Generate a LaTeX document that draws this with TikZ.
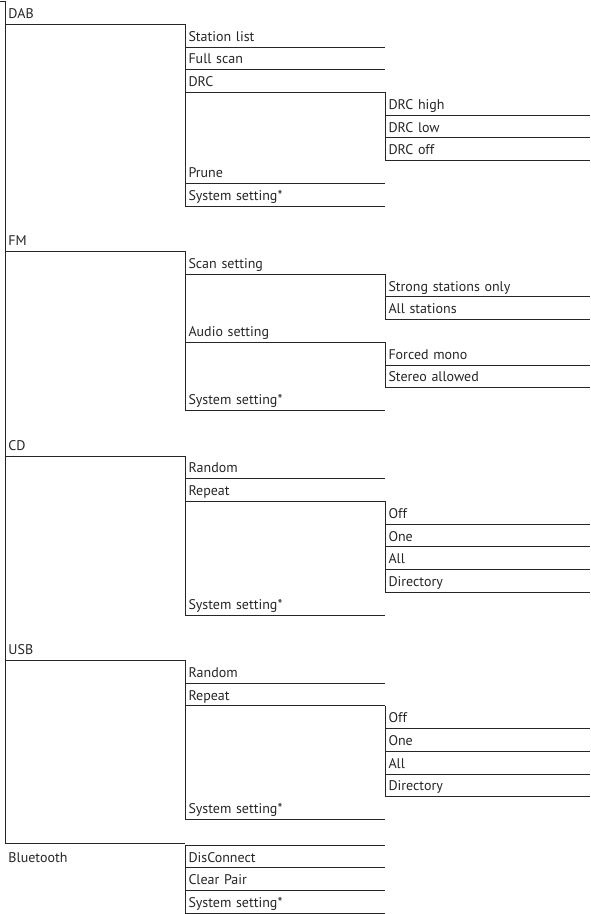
\documentclass[tikz,border=0pt]{standalone}
\usepackage{fontspec}
\setmainfont{PT Sans}
\usetikzlibrary{calc,positioning}
\newlength{\rowh}
\setlength{\rowh}{22.72pt}
\tikzset{
    menuline/.style={draw=black!85,line width=0.8pt},
    menuitem/.style={anchor=north west,inner xsep=3.5pt,inner ysep=0pt,outer sep=0pt,text height=16.97pt,text depth=5.75pt,align=left,font=\fontsize{14}{16}\selectfont,text=black!85},
    lvlone/.style={menuitem,text width=173pt},
    lvltwo/.style={menuitem,text width=193pt},
    lvlthree/.style={menuitem,text width=198pt},
}
\begin{document}
\begin{tikzpicture}
\useasboundingbox (0pt,0pt) rectangle (590pt,-914pt);
% DAB
\node[lvlone] (dab) at (5pt,-1.5pt) {DAB};
\node[lvltwo] (stlist) at (dab.south east) {Station list};
\node[lvltwo,below=0pt of stlist.south west,anchor=north west] (fullscan) {Full scan};
\node[lvltwo,below=0pt of fullscan.south west,anchor=north west] (drc) {DRC};
\node[lvlthree] (drchigh) at (drc.south east) {DRC high};
\node[lvlthree,below=0pt of drchigh.south west,anchor=north west] (drclow) {DRC low};
\node[lvlthree,below=0pt of drclow.south west,anchor=north west] (drcoff) {DRC off};
\node[lvltwo] (prune) at (drc.west |- drcoff.south) {Prune};
\node[lvltwo,below=0pt of prune.south west,anchor=north west] (dabsys) {System setting*};

% FM
\node[lvlone] (fm) at ($(dab.west |- dabsys.south)+(0,-\rowh)$) {FM};
\node[lvltwo] (scan) at (fm.south east) {Scan setting};
\node[lvlthree] (strong) at (scan.south east) {Strong stations only};
\node[lvlthree,below=0pt of strong.south west,anchor=north west] (allst) {All stations};
\node[lvltwo] (audio) at (scan.west |- allst.south) {Audio setting};
\node[lvlthree] (mono) at (audio.south east) {Forced mono};
\node[lvlthree,below=0pt of mono.south west,anchor=north west] (stereo) {Stereo allowed};
\node[lvltwo] (fmsys) at (audio.west |- stereo.south) {System setting*};

% CD
\node[lvlone] (cd) at ($(fm.west |- fmsys.south)+(0,-\rowh)$) {CD};
\node[lvltwo] (cdrand) at (cd.south east) {Random};
\node[lvltwo,below=0pt of cdrand.south west,anchor=north west] (cdrep) {Repeat};
\node[lvlthree] (cdoff) at (cdrep.south east) {Off};
\node[lvlthree,below=0pt of cdoff.south west,anchor=north west] (cdone) {One};
\node[lvlthree,below=0pt of cdone.south west,anchor=north west] (cdall) {All};
\node[lvlthree,below=0pt of cdall.south west,anchor=north west] (cddir) {Directory};
\node[lvltwo] (cdsys) at (cdrep.west |- cddir.south) {System setting*};

% USB
\node[lvlone] (usb) at ($(cd.west |- cdsys.south)+(0,-\rowh)$) {USB};
\node[lvltwo] (usbrand) at (usb.south east) {Random};
\node[lvltwo,below=0pt of usbrand.south west,anchor=north west] (usbrep) {Repeat};
\node[lvlthree] (usboff) at (usbrep.south east) {Off};
\node[lvlthree,below=0pt of usboff.south west,anchor=north west] (usbone) {One};
\node[lvlthree,below=0pt of usbone.south west,anchor=north west] (usball) {All};
\node[lvlthree,below=0pt of usball.south west,anchor=north west] (usbdir) {Directory};
\node[lvltwo] (usbsys) at (usbrep.west |- usbdir.south) {System setting*};

% Bluetooth
\coordinate (rootend) at ($(usbsys.south west)+(0,-24pt)$);
\node[lvlone] (bt) at ($(usb.west |- rootend)+(0,-1.6pt)$) {Bluetooth};
\node[lvltwo] (btdisc) at (bt.north east) {DisConnect};
\node[lvltwo,below=0pt of btdisc.south west,anchor=north west] (btclear) {Clear Pair};
\node[lvltwo,below=0pt of btclear.south west,anchor=north west] (btsys) {System setting*};

% underlines
\foreach \n in {dab,stlist,fullscan,drc,drchigh,drclow,drcoff,prune,dabsys,
                fm,scan,strong,allst,audio,mono,stereo,fmsys,
                cd,cdrand,cdrep,cdoff,cdone,cdall,cddir,cdsys,
                usb,usbrand,usbrep,usboff,usbone,usball,usbdir,usbsys,
                btdisc,btclear,btsys}
    \draw[menuline] (\n.south west)--(\n.south east);

% branches
\draw[menuline] (dab.south east)--(dabsys.south west);
\draw[menuline] (drc.south east)--(drcoff.south west);
\draw[menuline] (fm.south east)--(fmsys.south west);
\draw[menuline] (scan.south east)--(allst.south west);
\draw[menuline] (audio.south east)--(stereo.south west);
\draw[menuline] (cd.south east)--(cdsys.south west);
\draw[menuline] (cdrep.south east)--(cddir.south west);
\draw[menuline] (usb.south east)--(usbsys.south west);
\draw[menuline] (usbrep.south east)--(usbdir.south west);
\draw[menuline] (btdisc.north west)--(btdisc.north east);
\draw[menuline] (btdisc.north west)--(btsys.south west);

% root bracket
\coordinate (roottick) at (0pt,-1.5pt);
\draw[menuline] (roottick)--(dab.north west)--(dab.north west |- rootend)--(rootend);
\end{tikzpicture}
\end{document}
